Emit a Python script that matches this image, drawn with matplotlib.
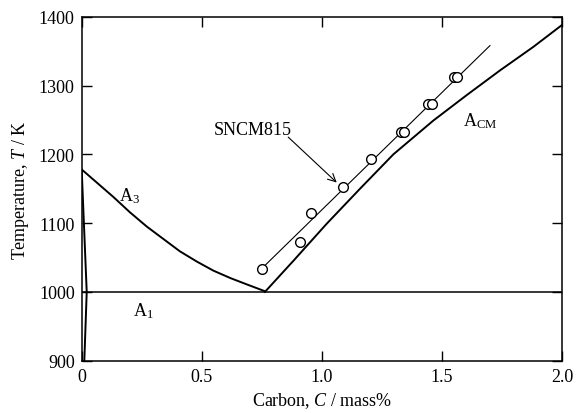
import matplotlib
matplotlib.use("Agg")
import matplotlib.pyplot as plt

plt.rcParams['font.family'] = ['Liberation Serif', 'DejaVu Serif']
plt.rcParams['mathtext.fontset'] = 'custom'
plt.rcParams['mathtext.rm'] = 'Liberation Serif'
plt.rcParams['mathtext.it'] = 'Liberation Serif:italic'

# Phase boundary curves
a3_c = [0.0, 0.066, 0.132, 0.20, 0.271, 0.34, 0.409, 0.48, 0.548, 0.62, 0.687, 0.763]
a3_t = [1178, 1158, 1138, 1116, 1095, 1077, 1059, 1044, 1031, 1020, 1011, 1001]

alpha_c = [0.0, 0.021, 0.011]
alpha_t = [1178, 1000, 900]

acm_c = [0.763, 0.881, 1.020, 1.159, 1.298, 1.464, 1.603, 1.742, 1.880, 2.0]
acm_t = [1000, 1045, 1099, 1150, 1200, 1249, 1286, 1322, 1356, 1388]

a1_c = [0.0, 2.0]
a1_t = [1000, 1000]

# SNCM815 measured points
sncm_c = [0.750, 0.909, 0.955, 1.087, 1.205, 1.328, 1.342, 1.441, 1.457, 1.550, 1.564]
sncm_t = [1034, 1073, 1114, 1153, 1193, 1233, 1233, 1273, 1273, 1313, 1313]

fit_c = [0.75, 1.70]
fit_t = [1034, 1358]

xticks = [0, 0.5, 1.0, 1.5, 2.0]
xticklabels = ['0', '0.5', '1.0', '1.5', '2.0']
yticks = [900, 1000, 1100, 1200, 1300, 1400]

fig = plt.figure(figsize=(5.76, 4.14), dpi=100)
ax = fig.add_axes([0.1418, 0.1263, 0.8339, 0.8309])

ax.plot(a3_c, a3_t, color='black', lw=1.4, solid_joinstyle='round')
ax.plot(alpha_c, alpha_t, color='black', lw=1.4)
ax.plot(acm_c, acm_t, color='black', lw=1.4, solid_joinstyle='round')
ax.plot(a1_c, a1_t, color='black', lw=1.1)
ax.plot(fit_c, fit_t, color='black', lw=0.8)
ax.plot(sncm_c, sncm_t, 'o', ms=7, mfc='white', mec='black', mew=1.0, ls='none')

ax.set_xlim(0, 2.0)
ax.set_ylim(900, 1400)
ax.set_xticks(xticks)
ax.set_xticklabels(xticklabels)
ax.set_yticks(yticks)
ax.tick_params(direction='in', length=7, width=1.0, top=True, right=True,
               labelsize=13, pad=5)
for s in ax.spines.values():
    s.set_linewidth(1.1)

ax.set_xlabel(r'Carbon, $C$ / mass%', fontsize=13, labelpad=4)
ax.set_ylabel(r'Temperature, $T$ / K', fontsize=13, labelpad=6)

ax.text(0.154, 1132.6, r'A$_3$', fontsize=13, ha='left', va='baseline')
ax.text(0.215, 965.4, r'A$_1$', fontsize=13, ha='left', va='baseline')
ax.text(1.589, 1241.6, r'A$_{\mathrm{CM}}$', fontsize=13, ha='left', va='baseline')
ax.text(0.548, 1229.4, 'SNCM815', fontsize=13, ha='left', va='baseline')
ax.annotate('', xy=(1.062, 1159), xytext=(0.860, 1225),
            arrowprops=dict(arrowstyle='->', color='black', lw=0.8,
                            mutation_scale=14, shrinkA=0, shrinkB=0))

fig.savefig('out.png', dpi=100)
